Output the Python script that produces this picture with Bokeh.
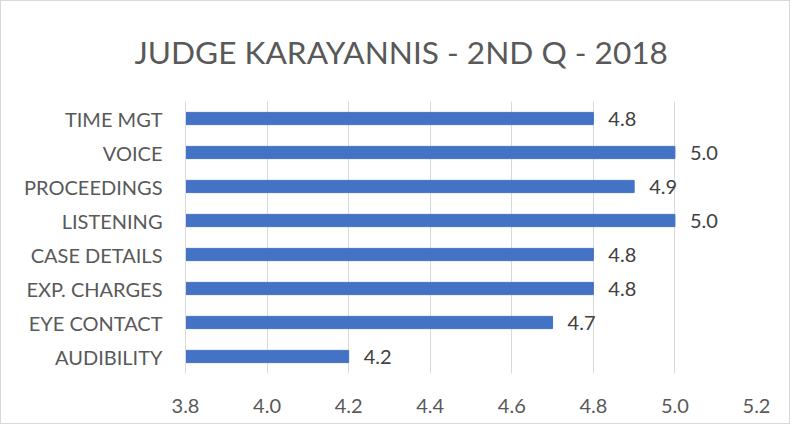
from bokeh.plotting import figure
from bokeh.models import FixedTicker, PrintfTickFormatter, ColumnDataSource, FactorRange, Range1d
from bokeh.core.properties import value
from bokeh.embed import file_html
from bokeh.resources import INLINE

title_text = "JUDGE KARAYANNIS - 2ND Q - 2018"
categories = ["AUDIBILITY", "EYE CONTACT", "EXP. CHARGES", "CASE DETAILS",
              "LISTENING", "PROCEEDINGS", "VOICE", "TIME MGT"]
scores = [4.2, 4.7, 4.8, 4.8, 5.0, 4.9, 5.0, 4.8]
x_ticks = [3.8, 4.0, 4.2, 4.4, 4.6, 4.8, 5.0, 5.2]
x_min, x_max = 3.8, 5.2

FONT = "Lato"
src = ColumnDataSource(dict(cat=categories, val=scores, left=[x_min] * len(scores),
                            lab=["%.1f" % v for v in scores]))

W, H = 790, 424
ML, MR, MT, MB = 184, 35, 100, 52
p = figure(width=W, height=H, output_backend="svg", toolbar_location=None,
           y_range=FactorRange(factors=categories, range_padding=0),
           x_range=Range1d(x_min, x_max),
           min_border_left=ML, min_border_right=MR, min_border_top=MT, min_border_bottom=MB)
p.styles = {"border": "1px solid #d9d9d9"}

p.title.text = title_text
p.title.align = "left"
p.title.vertical_align = "top"
p.title.offset = -51
p.title.standoff = 57
p.title.text_font = FONT
p.title.text_font_size = "31.6px"
p.title.text_font_style = "normal"
p.title.text_color = "#595959"

p.hbar(y="cat", left="left", right="val", height=0.36, color="#4472C4", source=src)
p.text(x="val", y="cat", text="lab", source=src, x_offset=15, text_baseline="middle",
       text_align="left", text_font=value(FONT), text_font_size="20px", text_color="#404040")

p.outline_line_color = None
p.ygrid.grid_line_color = None
p.xgrid.grid_line_color = "#d9d9d9"
p.xgrid.grid_line_width = 1

p.xaxis.ticker = FixedTicker(ticks=x_ticks)
p.xaxis.formatter = PrintfTickFormatter(format="%.1f")
p.xaxis.axis_line_color = None
p.xaxis.major_tick_line_color = None
p.xaxis.minor_tick_line_color = None
p.xaxis.major_label_text_font = FONT
p.xaxis.major_label_text_font_size = "20px"
p.xaxis.major_label_text_color = "#595959"
p.xaxis.major_label_standoff = 19

p.yaxis.axis_line_color = "#d9d9d9"
p.yaxis.major_tick_line_color = None
p.yaxis.minor_tick_line_color = None
p.yaxis.major_label_text_font = FONT
p.yaxis.major_label_text_font_size = "20px"
p.yaxis.major_label_text_color = "#595959"
p.yaxis.major_label_standoff = 17

open("out.html", "w").write(file_html(p, INLINE))
